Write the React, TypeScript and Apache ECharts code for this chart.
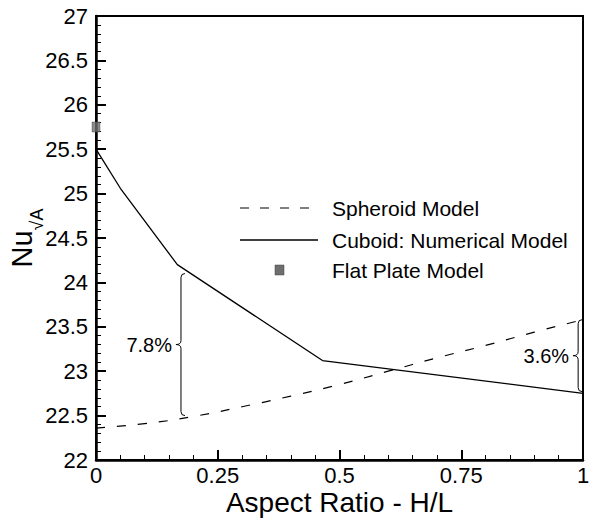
import React, { useEffect, useRef } from "react";
import * as echarts from "echarts";

const FONT = "Liberation Sans, Arial, Helvetica, sans-serif";

// Cuboid: Numerical Model (solid)
const cuboidX = [0, 0.05, 0.167, 0.465, 1];
const cuboidY = [25.5, 25.06, 24.2, 23.12, 22.75];

// Spheroid Model (dashed)
const spheroidX = [0, 0.1, 0.2, 0.3, 0.4, 0.5, 0.6, 0.7, 0.8, 0.9, 1];
const spheroidY = [22.36, 22.41, 22.49, 22.6, 22.72, 22.85, 23.0, 23.15, 23.29, 23.44, 23.58];

// Flat Plate Model
const flatX = [0];
const flatY = [25.75];

// Bracket annotations
const bracketX = [0.1745, 0.99];
const bracketTop = [24.1, 23.58];
const bracketBottom = [22.5, 22.77];
const bracketLabels = ["7.8%", "3.6%"];

const legendLabels = ["Spheroid Model", "Cuboid: Numerical Model", "Flat Plate Model"];

export default function App() {
  const ref = useRef<HTMLDivElement>(null);

  useEffect(() => {
    if (!ref.current) return;
    const chart = echarts.init(ref.current, null, { renderer: "svg" });

    const toPairs = (xs: number[], ys: number[]) => xs.map((x, i) => [x, ys[i]]);
    const bracketData = bracketX.map((x, i) => [x, bracketTop[i], bracketBottom[i], i]);

    const axisCommon = {
      axisLine: { show: true, onZero: false, lineStyle: { color: "#000", width: 2.5 } },
      axisTick: { show: true, inside: true, length: 10, lineStyle: { color: "#000", width: 2 } },
      minorTick: { show: true, splitNumber: 5, length: 5, lineStyle: { color: "#000", width: 1 } },
      splitLine: { show: false },
      minorSplitLine: { show: false },
    };

    const option: any = {
      animation: false,
      backgroundColor: "#fff",
      grid: {
        left: 96,
        right: 7,
        top: 16,
        bottom: 60,
        containLabel: false,
        outerBoundsMode: "none",
        show: true,
        borderColor: "#000",
        borderWidth: 2,
        backgroundColor: "transparent",
      },
      xAxis: {
        type: "value",
        min: 0,
        max: 1,
        interval: 0.25,
        ...axisCommon,
        axisLabel: { color: "#000", fontSize: 22, lineHeight: 22, fontFamily: FONT, margin: 4 },
        name: "Aspect Ratio - H/L",
        nameLocation: "middle",
        nameGap: 28,
        nameMoveOverlap: false,
        nameTextStyle: { color: "#000", fontSize: 28, lineHeight: 28, fontFamily: FONT },
      },
      yAxis: {
        type: "value",
        min: 22,
        max: 27,
        interval: 0.5,
        ...axisCommon,
        axisLabel: { color: "#000", fontSize: 22, fontFamily: FONT, margin: 8 },
        name: "{a|Nu}{b|√A}",
        nameLocation: "middle",
        nameGap: 50,
        nameMoveOverlap: false,
        nameTextStyle: {
          color: "#000",
          fontFamily: FONT,
          rich: {
            a: { fontSize: 29, fontFamily: FONT, color: "#000", verticalAlign: "bottom", padding: [0, 0, 10, 0] },
            b: { fontSize: 18, fontFamily: FONT, color: "#000", verticalAlign: "bottom" },
          },
        },
      },
      series: [
        {
          name: legendLabels[0],
          type: "line",
          data: toPairs(spheroidX, spheroidY),
          smooth: true,
          symbol: "none",
          lineStyle: { color: "#000", width: 1.2, type: [9, 12] },
          clip: false,
        },
        {
          name: legendLabels[1],
          type: "line",
          data: toPairs(cuboidX, cuboidY),
          symbol: "none",
          lineStyle: { color: "#000", width: 1.3 },
          clip: false,
        },
        {
          name: legendLabels[2],
          type: "scatter",
          data: toPairs(flatX, flatY),
          symbol: "rect",
          symbolSize: [8, 10],
          itemStyle: { color: "#6e6e6e", borderColor: "#444", borderWidth: 0.5 },
          clip: false,
          z: 1,
        },
        {
          type: "custom",
          data: bracketData,
          encode: { x: 0, y: 1 },
          clip: false,
          silent: true,
          renderItem: (params: any, api: any) => {
            const x = api.value(0);
            const top = api.coord([x, api.value(1)]);
            const bot = api.coord([x, api.value(2)]);
            const idx = api.value(3);
            const x0 = top[0];
            const t = top[1];
            const b = bot[1];
            const c = (t + b) / 2;
            const d = [
              `M ${x0 + 4} ${t}`,
              `Q ${x0} ${t} ${x0} ${t + 4}`,
              `L ${x0} ${c - 4}`,
              `Q ${x0} ${c} ${x0 - 5} ${c}`,
              `Q ${x0} ${c} ${x0} ${c + 4}`,
              `L ${x0} ${b - 4}`,
              `Q ${x0} ${b} ${x0 + 4} ${b}`,
            ].join(" ");
            return {
              type: "group",
              children: [
                {
                  type: "path",
                  shape: { pathData: d },
                  style: { stroke: "#000", fill: "none", lineWidth: 1 },
                },
                {
                  type: "text",
                  x: x0 - 9,
                  y: c,
                  style: {
                    text: bracketLabels[idx],
                    fill: "#000",
                    fontSize: 20,
                    fontFamily: FONT,
                    align: "right",
                    verticalAlign: "middle",
                  },
                },
              ],
            };
          },
        },
      ],
      graphic: [
        {
          type: "line",
          shape: { x1: 240, y1: 208, x2: 318, y2: 208 },
          style: { stroke: "#000", lineWidth: 1.2, lineDash: [9, 11] },
        },
        {
          type: "text",
          x: 332,
          y: 208,
          style: { text: legendLabels[0], fill: "#000", fontSize: 21, fontFamily: FONT, verticalAlign: "middle" },
        },
        {
          type: "line",
          shape: { x1: 240, y1: 240, x2: 318, y2: 240 },
          style: { stroke: "#000", lineWidth: 1.3 },
        },
        {
          type: "text",
          x: 332,
          y: 240,
          style: { text: legendLabels[1], fill: "#000", fontSize: 21, fontFamily: FONT, verticalAlign: "middle" },
        },
        {
          type: "rect",
          shape: { x: 275, y: 265, width: 9, height: 10 },
          style: { fill: "#6e6e6e", stroke: "#444", lineWidth: 0.5 },
        },
        {
          type: "text",
          x: 332,
          y: 270,
          style: { text: legendLabels[2], fill: "#000", fontSize: 21, fontFamily: FONT, verticalAlign: "middle" },
        },
      ],
    };

    chart.setOption(option);
    return () => chart.dispose();
  }, []);

  return (
    <div
      ref={ref}
      style={{ position: "fixed", left: 0, top: 0, width: 590, height: 520, background: "#fff" }}
    />
  );
}
